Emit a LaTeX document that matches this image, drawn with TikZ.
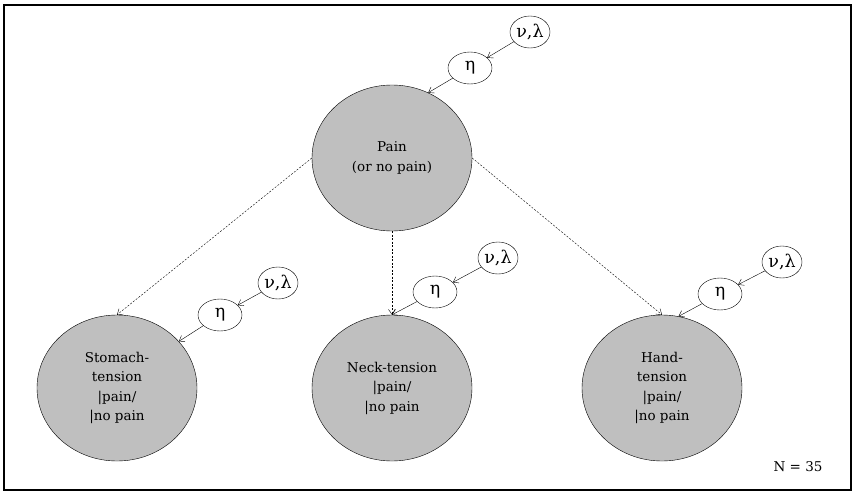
\documentclass[tikz,border=0pt]{standalone}
\usepackage{fontspec}
\setmainfont{DejaVu Serif}
\usetikzlibrary{arrows.meta, shapes.geometric}

\begin{document}
\begin{tikzpicture}[
    x=1pt, y=-1pt,
    every node/.style={font=\fontsize{13.5}{19.5}\selectfont}, % 统一字体
    bignode/.style={ellipse, draw, thin, fill=black!25, minimum width=160pt, minimum height=146pt, inner sep=0pt, align=center},
    parnode/.style={ellipse, draw, thin, fill=white, minimum width=44pt, minimum height=32pt, inner sep=0pt, font=\fontsize{17.5}{19}\selectfont},
    hyper/.style={-{Straight Barb[length=5pt, width=7pt]}, thin},
    dep/.style={-{Straight Barb[length=5pt, width=7pt]}, thin, dash pattern=on 2pt off 1.5pt}
]
    % 1. 边框
    \useasboundingbox (0,0) rectangle (857,498);
    \draw[line width=1.6pt] (4,5) rectangle (851,490);

    % 2. 主节点
    \node[bignode] (pain) at (392,158) {Pain\\(or no pain)};
    \node[bignode] (stomach) at (117,388) {Stomach-\\tension\\|pain/\\|no pain};
    \node[bignode] (neck) at (392,388) {Neck-tension\\|pain/\\|no pain};
    \node[bignode] (hand) at (662,388) {Hand-\\tension\\|pain/\\|no pain};

    % 3. 参数节点
    \node[parnode] (etaP) at (470,68) {η};
    \node[parnode, minimum width=40pt] (nlP) at (530,32) {ν,λ};
    \node[parnode] (etaS) at (220,315) {η};
    \node[parnode, minimum width=40pt] (nlS) at (278,283) {ν,λ};
    \node[parnode] (etaN) at (435,292) {η};
    \node[parnode, minimum width=40pt] (nlN) at (498,258) {ν,λ};
    \node[parnode] (etaH) at (720,294) {η};
    \node[parnode, minimum width=40pt] (nlH) at (782,262) {ν,λ};

    % 4. 箭头
    \foreach \a/\b in {nlP/etaP, nlS/etaS, nlN/etaN, nlH/etaH} {
        \draw[hyper] (\a) -- (\b);
    }
    \draw[hyper] (etaP) -- (pain.61);
    \draw[hyper] (etaS) -- (stomach.37);
    \draw[hyper] (etaN) -- (neck.north);
    \draw[hyper] (etaH) -- (hand.77);
    \draw[dep] (pain.west) -- (stomach.north);
    \draw[dep] (pain.south) -- (neck.north);
    \draw[dep] (pain.east) -- (hand.north);

    % 5. 样本量
    \node (nlabel) at (798,467) {N = 35};
\end{tikzpicture}
\end{document}
